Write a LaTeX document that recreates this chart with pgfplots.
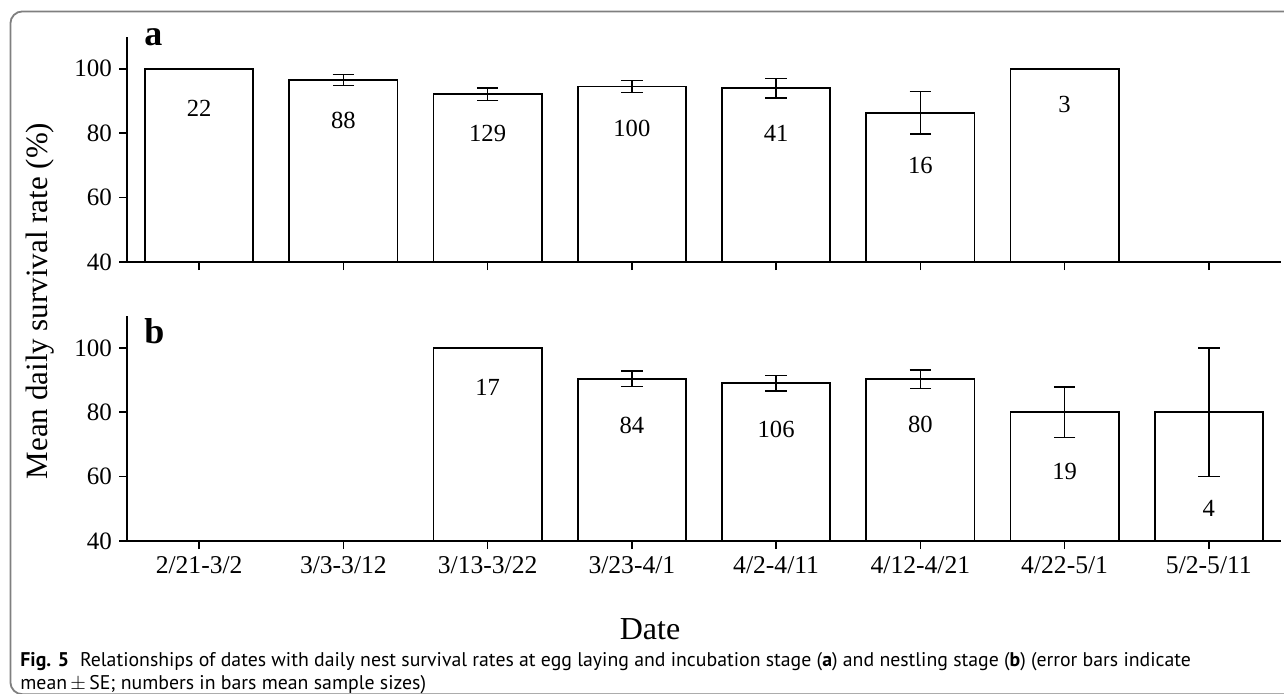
\documentclass[border=0pt]{standalone}
\usepackage{pgfplots}
\pgfplotsset{compat=1.18}
\usepackage{fontspec}
\setmainfont{Liberation Serif}
\newfontfamily\capfont{PT Sans}
\definecolor{framegray}{HTML}{7F7F7F}
\pgfplotsset{
  myax/.style={
    scale only axis, width=577pt, height=112.7pt,
    xmin=-0.5, xmax=7.5, ymin=40, ymax=110,
    axis x line*=bottom, axis y line*=left,
    axis line style={line width=0.9pt, black},
    ytick={40,60,80,100}, xtick={0,...,7},
    tick align=outside, major tick length=4pt,
    tick style={line width=0.75pt, black},
    /pgf/number format/assume math mode=true,
    yticklabel style={font=\fontsize{12.5}{14}\selectfont},
    xticklabel style={font=\fontsize{12.8}{15}\selectfont},
    ybar, bar width=0.75, bar shift=0pt,
  },
  mybar/.style={draw=black, fill=white, line width=0.8pt,
    error bars/.cd, y dir=both, y explicit,
    error bar style={line width=0.8pt, black},
    error mark options={rotate=90, mark size=5.4pt, line width=0.8pt, black}},
}
\begin{document}
\begin{tikzpicture}
\useasboundingbox (0,0) rectangle (642pt,346.5pt);
% frame
\draw[framegray, line width=0.9pt, rounded corners=6pt] (660pt,340.8pt) -- (5.2pt,340.8pt) -- (5.2pt,-0.6pt) -- (660pt,-0.6pt);
% panel a
\begin{axis}[myax, at={(63.5pt,215.5pt)}, anchor=south west, xticklabels={}]
\addplot[mybar] coordinates {
(0,100) +- (0,0)
(1,96.5) +- (0,1.7)
(2,92.1) +- (0,1.9)
(3,94.5) +- (0,1.9)
(4,94.0) +- (0,3.0)
(5,86.3) +- (0,6.6)
(6,100) +- (0,0)
};
\begin{scope}[every node/.style={font=\fontsize{12.3}{14}\selectfont}]
\node at (axis cs:0,87.8) {22};
\node at (axis cs:1,84) {88};
\node at (axis cs:2,80) {129};
\node at (axis cs:3,81.6) {100};
\node at (axis cs:4,79.8) {41};
\node at (axis cs:5,70) {16};
\node at (axis cs:6,88.8) {3};
\end{scope}
\end{axis}
% panel b
\begin{axis}[myax, at={(63.5pt,76pt)}, anchor=south west,
  xticklabels={2/21-3/2,3/3-3/12,3/13-3/22,3/23-4/1,4/2-4/11,4/12-4/21,4/22-5/1,5/2-5/11}]
\addplot[mybar] coordinates {
(2,100) +- (0,0)
(3,90.4) +- (0,2.4)
(4,89.0) +- (0,2.4)
(5,90.3) +- (0,2.9)
(6,80.0) +- (0,7.8)
(7,80.0) +- (0,20)
};
\begin{scope}[every node/.style={font=\fontsize{12.3}{14}\selectfont}]
\node at (axis cs:2,87.7) {17};
\node at (axis cs:3,76) {84};
\node at (axis cs:4,74.5) {106};
\node at (axis cs:5,76.2) {80};
\node at (axis cs:6,61.5) {19};
\node at (axis cs:7,50) {4};
\end{scope}
\end{axis}
% panel letters
\node[anchor=base west, inner sep=0pt, font=\fontsize{18}{20}\selectfont\bfseries] at (72pt,324pt) {a};
\node[anchor=base west, inner sep=0pt, font=\fontsize{18}{20}\selectfont\bfseries] at (72pt,175pt) {b};
% axis titles
\node[rotate=90, font=\fontsize{15.5}{18}\selectfont] at (20pt,196pt) {Mean daily survival rate (\%)};
\node[font=\fontsize{16}{18}\selectfont] at (325pt,32pt) {Date};
% caption
\node[anchor=base west, inner sep=0pt, font=\capfont\fontsize{9.9}{12}\selectfont] at (10pt,13.4pt) {\textbf{Fig. 5}\hspace{0.55em}Relationships of dates with daily nest survival rates at egg laying and incubation stage (\textbf{a}) and nestling stage (\textbf{b}) (error bars indicate};
\node[anchor=base west, inner sep=0pt, font=\capfont\fontsize{9.9}{12}\selectfont] at (10pt,1.8pt) {mean\,$\pm$\,SE; numbers in bars mean sample sizes)};
\end{tikzpicture}
\end{document}
